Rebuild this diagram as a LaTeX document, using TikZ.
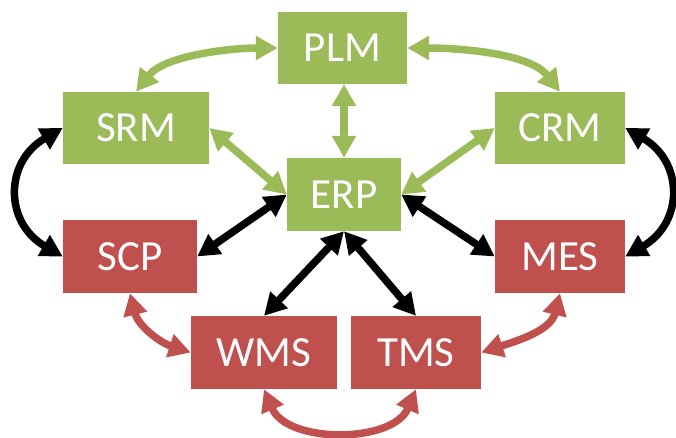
\documentclass[tikz,border=0pt]{standalone}
\usepackage{fontspec}
\setmainfont{Carlito}
\usetikzlibrary{arrows.meta}

\definecolor{sysgreen}{HTML}{9BBB59}
\definecolor{sysred}{HTML}{C0504D}

\tikzset{
  sysbox/.style={draw=none, inner sep=0pt, minimum height=72pt,
    text=white, font=\fontsize{43}{50}\selectfont},
  corebox/.style={sysbox, fill=sysgreen},
  execbox/.style={sysbox, fill=sysred},
  link/.style={line width=7.5pt,
    {Triangle[length=22pt,width=23pt]}-{Triangle[length=22pt,width=23pt]}},
  greenlink/.style={link, draw=sysgreen},
  blacklink/.style={link, draw=black},
  redlink/.style={link, draw=sysred}
}

\begin{document}
\begin{tikzpicture}[x=1pt, y=1pt]
  \useasboundingbox (0,0) rectangle (676,437);

  % planning / business systems
  \node[corebox, minimum width=129pt] (PLM) at (342.5,389) {PLM};
  \node[corebox, minimum width=146pt] (SRM) at (136,309) {SRM};
  \node[corebox, minimum width=130pt] (CRM) at (560,309) {CRM};
  \node[corebox, minimum width=114pt, minimum height=73pt] (ERP) at (344,242.5) {ERP};

  % execution systems
  \node[execbox, minimum width=134pt, minimum height=73pt] (SCP) at (130,180.5) {SCP};
  \node[execbox, minimum width=130pt, minimum height=73pt] (MES) at (560,180.5) {MES};
  \node[execbox, minimum width=146pt, minimum height=73pt] (WMS) at (264,84.5) {WMS};
  \node[execbox, minimum width=130pt, minimum height=73pt] (TMS) at (416,84.5) {TMS};

  % green links
  \draw[greenlink] (PLM.west) to[out=180, in=52, looseness=0.8] (SRM.north);
  \draw[greenlink] (PLM.east) to[out=0, in=128, looseness=0.8] (CRM.north);
  \draw[greenlink] (PLM.south -| ERP.north) -- (ERP.north);
  \draw[greenlink] (SRM.east) -- (ERP.west);
  \draw[greenlink] (CRM.west) -- (ERP.east);

  % black links
  \draw[blacklink] (SRM.west) to[out=210, in=150, looseness=1.35] (SCP.west);
  \draw[blacklink] (CRM.east) to[out=-30, in=30, looseness=1.35] (MES.east);
  \draw[blacklink] (ERP.west) -- (SCP.east);
  \draw[blacklink] (ERP.east) -- (MES.west);
  \draw[blacklink] (ERP.south) -- (WMS.north);
  \draw[blacklink] (ERP.south) -- (TMS.north);

  % red links
  \draw[redlink] (SCP.south) to[out=-76, in=162] (WMS.west);
  \draw[redlink] (MES.south) to[out=-104, in=18] (TMS.east);
  \draw[redlink] (WMS.south) to[out=-67, in=-113] (TMS.south);
\end{tikzpicture}
\end{document}
